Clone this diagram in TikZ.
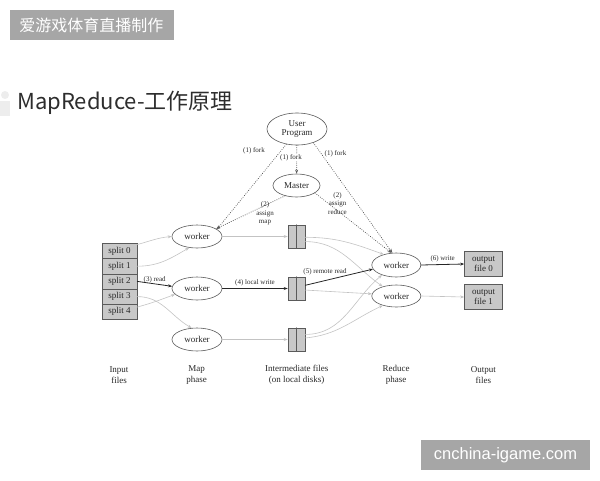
\documentclass[tikz,border=0pt]{standalone}
\usepackage{fontspec}
\setmainfont{Liberation Serif}
\newfontfamily\cjkfont{Noto Sans CJK SC}
\newfontfamily\webfont{Liberation Sans}
\usetikzlibrary{arrows.meta,positioning,shapes.geometric}
\definecolor{mrgray}{RGB}{200,200,200}
\definecolor{mrline}{RGB}{90,90,90}
\definecolor{mrlight}{RGB}{195,195,195}
\definecolor{mrbanner}{RGB}{166,166,166}
\definecolor{mrtext}{RGB}{40,40,40}
\definecolor{mrtitle}{RGB}{45,45,45}

\begin{document}
\begin{tikzpicture}[x=1pt,y=1pt,>={Stealth[length=4pt,width=3pt]},line cap=round,
 proc/.style={ellipse,draw=mrline,line width=.6pt,minimum width=49pt,minimum height=23pt,
  inner sep=0pt,font=\fontsize{9}{10}\selectfont,text=mrtext},
 splitbox/.style={rectangle,draw=mrline,fill=mrgray,line width=.6pt,minimum width=35pt,
  minimum height=15.2pt,inner sep=0pt,font=\fontsize{9}{10}\selectfont,text=mrtext},
 filebox/.style={rectangle,draw=mrline,fill=mrgray,line width=.6pt,minimum width=17pt,
  minimum height=23pt,inner sep=0pt},
 outbox/.style={rectangle,draw=mrline,fill=mrgray,line width=.6pt,minimum width=38pt,
  minimum height=25pt,inner sep=0pt,align=center,font=\fontsize{9}{10}\selectfont,text=mrtext},
 lbl/.style={font=\fontsize{7}{8.3}\selectfont,text=mrtext,inner sep=.5pt,align=center},
 phase/.style={align=center,font=\fontsize{9}{10.5}\selectfont,text=mrtext},
 ctl/.style={->,mrline,dash pattern=on .4pt off 1.8pt,line width=.8pt},
 data/.style={->,mrlight,line width=.6pt},
 flow/.style={->,black!85,line width=.8pt}]
\useasboundingbox (0,0) rectangle (600,-480);
% banners and title
\fill[mrbanner] (10,-10) rectangle (174,-40);
\node[text=white,font=\cjkfont\fontsize{16}{16}\selectfont] (brand) at (91.5,-25) {爱游戏体育直播制作};
\fill[mrbanner] (421,-440) rectangle (590,-470);
\node[text=white,font=\webfont\fontsize{16.5}{16.5}\selectfont] (site) at (505.5,-455) {cnchina-igame.com};
\fill[gray!14] (5,-95) circle (4);
\fill[gray!14] (0,-101) rectangle (10,-116);
\node[anchor=west,text=mrtitle,font=\cjkfont\fontsize{22}{22}\selectfont,inner sep=0pt] (title) at (17,-103) {MapReduce-工作原理};
% control nodes
\node[proc,minimum width=60pt,minimum height=32pt,align=center] (user) at (297,-129) {User\\[-1pt]Program};
\node[proc,minimum width=47pt] (master) at (296.5,-185.5) {Master};
% input splits
\foreach \i in {0,...,4}
 \node[splitbox] (s\i) at (119.5,{-251-15.2*\i}) {split \i};
% map workers, intermediate files
\foreach \i/\yy in {0/236.5,1/288.5,2/339.5}{
 \node[proc,minimum width=50pt] (m\i) at (197,-\yy) {worker};
 \node[filebox] (f\i) at (296.5,-\yy) {};
 \draw[mrline,line width=.6pt] (f\i.north) -- (f\i.south);
}
% reduce workers, output files
\node[proc,minimum height=24pt] (r0) at (396.3,-265) {worker};
\node[proc,minimum height=22pt] (r1) at (396.3,-296) {worker};
\node[outbox] (o0) at (483.5,-264) {output\\file 0};
\node[outbox] (o1) at (483.5,-297) {output\\file 1};
% phase captions
\node[phase] (cin) at (119,-375) {Input\\files};
\node[phase] (cmap) at (196.5,-375) {Map\\phase};
\node[phase] (cmid) at (296.7,-375) {Intermediate files\\(on local disks)};
\node[phase] (cred) at (396,-375) {Reduce\\phase};
\node[phase] (cout) at (483.4,-375) {Output\\files};
% fork / assign
\draw[ctl] (user.235) -- (m0.20);
\draw[ctl] (user) -- (master);
\draw[ctl] (user.320) -- (r0.108);
\draw[ctl] (master.222) -- (m0.22);
\draw[ctl] (master.-22) -- (r0.112);
\node[lbl] (lf0) at (254,-151) {(1) fork};
\node[lbl,fill=white] (lf1) at (291,-157.5) {(1) fork};
\node[lbl] (lf2) at (335.5,-154) {(1) fork};
\node[lbl] (la0) at (265,-213.5) {(2)\\assign\\map};
\node[lbl] (la1) at (337.5,-203.5) {(2)\\assign\\reduce};
% map side
\draw[data] (s0.20) to[out=15,in=185] (m0.west);
\draw[data] (s1.east) to[out=0,in=210] (m0.235);
\draw[flow] (s2.east) -- node[lbl,above,yshift=.3pt] (lread) {(3) read} (m1.175);
\draw[data] (s3.east) to[out=0,in=150] (m2.115);
\draw[data] (s4.15) to[out=15,in=200] (m1.195);
\draw[data] (m0.east) -- (f0.west);
\draw[flow] (m1.east) -- node[lbl,above,yshift=2pt] (lwrite) {(4) local write} (f1.west);
\draw[data] (m2.east) -- (f2.west);
% reduce side
\draw[data] (f0.-5) to[out=0,in=160] (r0.140);
\draw[data] (f0.-30) to[out=0,in=145] (r1.145);
\draw[flow] (f1.20) -- (r0.190);
\node[lbl] (lremote) at (325,-271.5) {(5) remote read};
\draw[data] (f1.-10) -- (r1.175);
\draw[data] (f2.30) to[out=0,in=220] (r0.215);
\draw[data] (f2.10) to[out=5,in=205] (r1.215);
\draw[flow] (r0.east) -- node[lbl,above,yshift=2pt] (lout) {(6) write} (o0.west);
\draw[data] (r1.east) -- (o1.west);
\end{tikzpicture}
\end{document}
